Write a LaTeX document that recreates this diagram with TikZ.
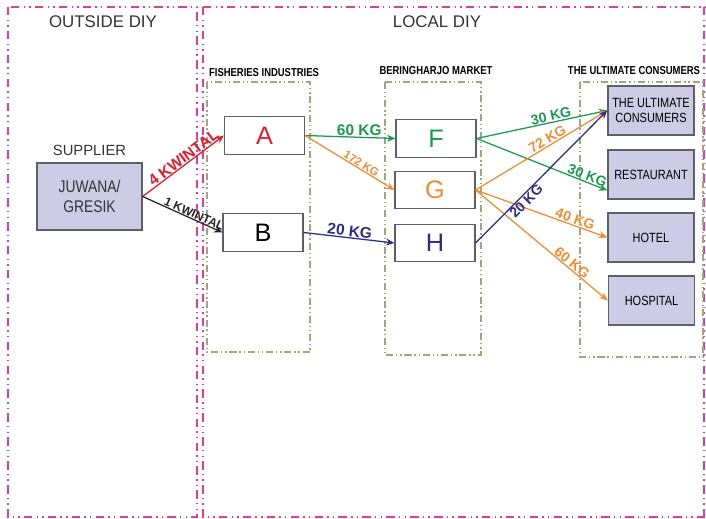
\documentclass[tikz,border=0pt]{standalone}
\usepackage{fontspec}
\setmainfont{Liberation Sans}
\newfontfamily\narrowfont[FakeStretch=0.82]{Liberation Sans}
\usetikzlibrary{arrows.meta, positioning, calc, backgrounds}
\definecolor{diypink}{RGB}{222,60,160}
\definecolor{groupolive}{RGB}{165,165,125}
\definecolor{boxlav}{RGB}{204,204,230}
\definecolor{boxedge}{RGB}{95,95,100}
\definecolor{flowred}{RGB}{225,30,45}
\definecolor{flowgreen}{RGB}{25,155,80}
\definecolor{floworange}{RGB}{240,140,50}
\definecolor{flownavy}{RGB}{45,45,135}

\begin{document}
\begin{tikzpicture}[
    x=0.025cm, y=-0.025cm,
    background rectangle/.style={fill=white},
    show background rectangle,
    diyframe/.style={draw=diypink, line width=1.4pt,
                     dash pattern=on 6pt off 3pt on 1pt off 3pt on 1pt off 3pt},
    groupframe/.style={draw=groupolive, line width=0.8pt,
                       dash pattern=on 5pt off 2pt on 1pt off 2pt on 1pt off 2pt},
    stagebox/.style={draw=boxedge, fill=white, line width=0.8pt,
                     minimum width=2cm, minimum height=0.93cm, inner sep=0pt,
                     font=\fontsize{18}{20}\selectfont},
    endbox/.style={draw=boxedge, fill=boxlav, line width=1pt,
                   minimum width=2.15cm, minimum height=1.22cm, inner sep=1pt,
                   align=center, font=\narrowfont\fontsize{9.5}{11}\selectfont},
    flow/.style={-{Stealth[length=6pt, width=5pt]}, line width=0.9pt},
    qty/.style={font=\bfseries\fontsize{10}{12}\selectfont, inner sep=0.5pt},
    qtybig/.style={font=\bfseries\fontsize{11}{13}\selectfont, inner sep=0.5pt},
    qtysmall/.style={font=\bfseries\fontsize{8}{10}\selectfont, inner sep=0.5pt},
    grouptitle/.style={font=\narrowfont\bfseries\fontsize{8.2}{10}\selectfont},
]

\path[use as bounding box] (0,0) rectangle (706,519);

% ════════════════════════════════════════════════════════
% 0. REGIONS
% ════════════════════════════════════════════════════════
\draw[diyframe] (8,7) rectangle (197,517);
\draw[diyframe] (203,7) -- (712,7);
\draw[diyframe] (203,7) -- (203,517) -- (712,517);
\draw[diyframe] (704,7) -- (704,517);

\node[font=\fontsize{12}{14}\selectfont, text=black!80] (outsideT) at (103,22) {OUTSIDE DIY};
\node[font=\fontsize{12}{14}\selectfont, text=black!80] (localT) at (437,22) {LOCAL DIY};

% ════════════════════════════════════════════════════════
% 1. GROUP FRAMES
% ════════════════════════════════════════════════════════
\draw[groupframe] (207,82) rectangle (310,352);
\draw[groupframe] (385,82) rectangle (481,355);
\draw[groupframe] (580,82) rectangle (703,357);

\node[grouptitle] (fishT) at (264,73) {FISHERIES INDUSTRIES};
\node[grouptitle] (marketT) at (436,71) {BERINGHARJO MARKET};
\node[grouptitle] (consT) at (634,71) {THE ULTIMATE CONSUMERS};

% ════════════════════════════════════════════════════════
% 2. SUPPLIER
% ════════════════════════════════════════════════════════
\node[draw=boxedge, fill=boxlav, line width=1pt, minimum width=2.62cm,
      minimum height=1.67cm, align=center,
      font=\narrowfont\fontsize{12}{14.5}\selectfont, text=black!80]
    (SUP) at (89.5,196.5) {JUWANA/\\GRESIK};
\node[font=\fontsize{10.5}{12}\selectfont, text=black!80, above=1pt of SUP] (supT) {SUPPLIER};

% ════════════════════════════════════════════════════════
% 3. STAGES
% ════════════════════════════════════════════════════════
\node[stagebox, text=flowred]    (A) at (264.5,135.5) {A};
\node[stagebox, text=black]      (B) at (263,232.5) {B};
\node[stagebox, text=flowgreen]  (F) at (436,138.5) {F};
\node[stagebox, text=floworange] (G) at (435,190) {G};
\node[stagebox, text=flownavy]   (H) at (435,243) {H};

\node[endbox] (ULT)  at (651,110.5) {THE ULTIMATE\\CONSUMERS};
\node[endbox] (REST) at (651,174.5) {RESTAURANT};
\node[endbox] (HOTEL) at (651,237.5) {HOTEL};
\node[endbox] (HOSP) at (651.5,300.5) {HOSPITAL};

% ════════════════════════════════════════════════════════
% 4. FLOWS
% ════════════════════════════════════════════════════════
\draw[flow, flowred] (SUP.east) -- node[qtybig, sloped, above, pos=0.55, text=flowred] {4 KWINTAL} (A.west);
\draw[flow, black!85] (SUP.east) -- node[qtysmall, sloped, above, pos=0.62,
    font=\bfseries\fontsize{8.5}{10}\selectfont] {1 KWINTAL} (B.west);

\draw[flow, flowgreen] (A.east) -- node[qtybig, above, pos=0.6, text=flowgreen] {60 KG} (F.west);
\draw[flow, floworange] (A.east) -- node[qtysmall, sloped, above, pos=0.6, text=floworange] {172 KG} (G.west);
\draw[flow, flownavy] (B.east) -- node[qtybig, sloped, above, pos=0.5, text=flownavy] {20 KG} (H.west);

\draw[flow, flowgreen] (F.east) -- node[qty, sloped, above, pos=0.58, text=flowgreen] {30 KG} (ULT.west);
\draw[flow, flowgreen] (F.east) -- node[qty, sloped, above, pos=0.83, text=flowgreen] {30 KG} (REST.200);
\draw[flow, floworange] (G.east) -- node[qty, sloped, above, pos=0.57, text=floworange] {72 KG} (ULT.west);
\draw[flow, floworange] (G.east) -- node[qty, sloped, above, pos=0.74, text=floworange] {40 KG} (HOTEL.west);
\draw[flow, floworange] (G.east) -- node[qty, sloped, above, pos=0.7, text=floworange] {60 KG} (HOSP.west);
\draw[flow, flownavy] (H.east) -- node[qty, sloped, below, pos=0.35, text=flownavy] {20 KG} (ULT.west);

\end{tikzpicture}
\end{document}
